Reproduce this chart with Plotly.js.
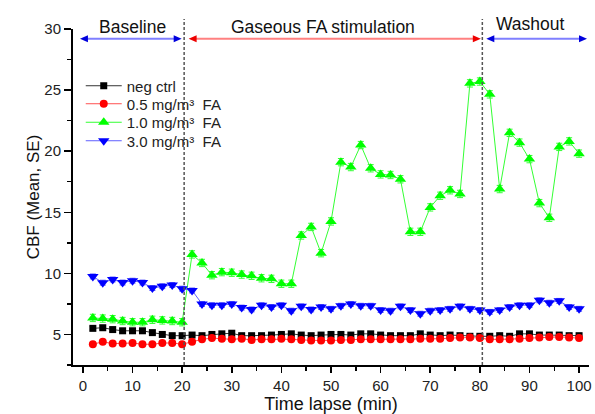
<!DOCTYPE html>
<html>
<head>
<meta charset="utf-8">
<script src="https://cdn.plot.ly/plotly-3.0.1.min.js"></script>
<style>html,body{margin:0;padding:0;background:#fff}#chart{width:595px;height:414px}</style>
</head>
<body>
<div id="chart"></div>
<script>
const timeMin = [2,4,6,8,10,12,14,16,18,20,22,24,26,28,30,32,34,36,38,40,42,44,46,48,50,52,54,56,58,60,62,64,66,68,70,72,74,76,78,80,82,84,86,88,90,92,94,96,98,100];

const negCtrl = [5.5,5.55,5.4,5.3,5.3,5.3,5.15,5.0,4.9,4.9,
  4.95,4.9,5.0,5.05,5.1,4.9,4.9,4.9,4.95,5.0,
  5.05,4.95,4.9,4.95,5.0,5.0,4.95,5.05,5.05,4.95,
  4.9,4.9,4.9,5.05,4.95,4.9,4.95,4.9,4.85,4.85,
  4.85,4.9,4.85,5.05,5.05,4.95,4.95,4.95,4.9,4.9];

const fa05 = [4.2,4.4,4.25,4.25,4.3,4.2,4.2,4.3,4.3,4.2,
  4.4,4.6,4.7,4.65,4.6,4.65,4.55,4.6,4.6,4.65,
  4.6,4.55,4.5,4.5,4.5,4.55,4.55,4.6,4.6,4.6,
  4.6,4.6,4.6,4.65,4.65,4.65,4.7,4.75,4.75,4.7,
  4.6,4.6,4.6,4.65,4.7,4.75,4.8,4.8,4.75,4.7];

const fa10 = [6.35,6.3,6.25,6.1,6.0,6.0,6.2,6.15,6.1,6.0,
  11.55,10.85,9.85,10.1,10.05,9.9,9.8,9.6,9.55,9.15,
  9.15,13.1,13.8,11.65,14.25,19.1,18.7,20.5,18.6,18.1,
  18.05,17.7,13.4,13.4,15.4,16.35,16.8,16.5,25.55,25.7,
  24.65,16.9,21.5,20.7,19.35,15.75,14.55,20.35,20.8,19.8];

const fa30 = [9.75,9.24,9.5,9.25,9.4,9.25,8.8,8.95,9.05,8.75,
  8.6,7.5,7.4,7.4,7.5,7.2,7.05,7.4,7.25,7.4,
  6.95,7.3,7.05,7.25,7.1,7.35,7.5,7.35,7.35,7.0,
  6.95,7.3,7.0,6.7,6.95,7.0,7.1,7.3,7.1,7.0,
  6.85,7.0,7.25,7.4,7.4,7.8,7.6,7.75,7.25,7.1];

// standard errors (approximate, read from caps)
const seNeg = 0.15, se05 = 0.12, se10 = 0.3, se30 = 0.2;

const seriesNames = ['neg ctrl','0.5 mg/m³  FA','1.0 mg/m³  FA','3.0 mg/m³  FA'];
const phaseLabels = ['Baseline','Gaseous FA stimulation','Washout'];
const phaseBounds = [20.4, 80.5];

const font = 'Liberation Sans, Arial, sans-serif';
const legendIds = ['legend','legend2','legend3','legend4'];

function mk(y, name, color, lineColor, symbol, size, se, lg){
  return {
    x: timeMin, y: y, name: name, type: 'scatter', mode: 'lines+markers', legend: lg,
    line: {color: lineColor, width: 1},
    marker: {color: color, symbol: symbol, size: size, line: {width: 0}},
    error_y: {type: 'constant', value: se, visible: true, color: lineColor, thickness: 1, width: 3}
  };
}

const traces = [
  mk(negCtrl, seriesNames[0], '#000000', '#333333', 'square', 7, seNeg, legendIds[0]),
  mk(fa05, seriesNames[1], '#ff0000', '#ff5050', 'circle', 8, se05, legendIds[1]),
  mk(fa10, seriesNames[2], '#00ff00', '#33ff33', 'triangle-up', 10, se10, legendIds[2]),
  mk(fa30, seriesNames[3], '#0000ff', '#6060ff', 'triangle-down', 10, se30, legendIds[3])
];

const arrowY = 29.2;
const shapes = phaseBounds.map(b => ({
  type: 'line', xref: 'x', yref: 'paper', x0: b, x1: b, y0: 0, y1: 1.03,
  line: {color: '#555555', width: 1.5, dash: '3px,2px'}
}));
const arrowSpecs = [
  {x0: -0.6, x1: 19.9, color: '#0000dd', line: '#7f7fff'},
  {x0: 21.3, x1: 80.2, color: '#ee0000', line: '#ff8080'},
  {x0: 81.3, x1: 101.6, color: '#0000dd', line: '#7f7fff'}
];
arrowSpecs.forEach(a => {
  shapes.push({type:'line', xref:'x', yref:'y', x0:a.x0+1, x1:a.x1-1, y0:arrowY, y1:arrowY,
    line:{color:a.line, width:2}});
  shapes.push({type:'path', xref:'x', yref:'y', xsizemode:'pixel', ysizemode:'pixel',
    xanchor:a.x0, yanchor:arrowY, path:'M0,0 L8,3.5 L8,-3.5 Z',
    fillcolor:a.color, line:{width:0}});
  shapes.push({type:'path', xref:'x', yref:'y', xsizemode:'pixel', ysizemode:'pixel',
    xanchor:a.x1, yanchor:arrowY, path:'M0,0 L-8,3.5 L-8,-3.5 Z',
    fillcolor:a.color, line:{width:0}});
});

const annotations = [];
const labelPos = [[9.9, 1.005], [48.3, 1.005], [90.3, 1.015]];
phaseLabels.forEach((t, i) => {
  annotations.push({x: labelPos[i][0], y: labelPos[i][1], xref: 'x', yref: 'paper', text: t,
    showarrow: false, xanchor: 'center', yanchor: 'middle', font: {family: font, size: 17.5, color: '#111'}});
});

const legendY = [0.8304, 0.7768, 0.7217, 0.6667];

const layout = {
  width: 595, height: 414,
  margin: {l: 73, r: 5.5, t: 29, b: 49},
  paper_bgcolor: '#fff', plot_bgcolor: '#fff',
  showlegend: true,
  xaxis: {
    range: [-2, 102], tickmode: 'array', tickvals: [0,10,20,30,40,50,60,70,80,90,100],
    showline: true, linecolor: '#000', linewidth: 2, ticks: 'outside', ticklen: 6, tickwidth: 1.5, tickcolor: '#000',
    minor: {dtick: 5, tick0: 0, ticks: 'outside', ticklen: 4, tickwidth: 1.5, tickcolor: '#000'},
    showgrid: false, zeroline: false,
    tickfont: {family: font, size: 15, color: '#222'},
    title: {text: 'Time lapse (min)', font: {family: font, size: 18, color: '#111'}, standoff: 6}
  },
  yaxis: {
    range: [2.5, 30], tickmode: 'array', tickvals: [5,10,15,20,25,30],
    showline: true, linecolor: '#000', linewidth: 2, ticks: 'outside', ticklen: 7, tickwidth: 1.5, tickcolor: '#000',
    minor: {dtick: 2.5, tick0: 0, ticks: 'outside', ticklen: 4, tickwidth: 1.5, tickcolor: '#000'},
    showgrid: false, zeroline: false,
    tickfont: {family: font, size: 15, color: '#222'},
    title: {text: 'CBF (Mean, SE)', font: {family: font, size: 17, color: '#111'}, standoff: 0}
  },
  shapes: shapes,
  annotations: annotations
};
legendIds.forEach((id, i) => {
  layout[id] = {x: 0.015, y: legendY[i], xanchor: 'left', yanchor: 'middle', bgcolor: 'rgba(0,0,0,0)',
    font: {family: font, size: 15, color: '#222'}, itemwidth: 36};
});

Plotly.newPlot('chart', traces, layout, {displayModeBar: false, staticPlot: true});
</script>
</body>
</html>
